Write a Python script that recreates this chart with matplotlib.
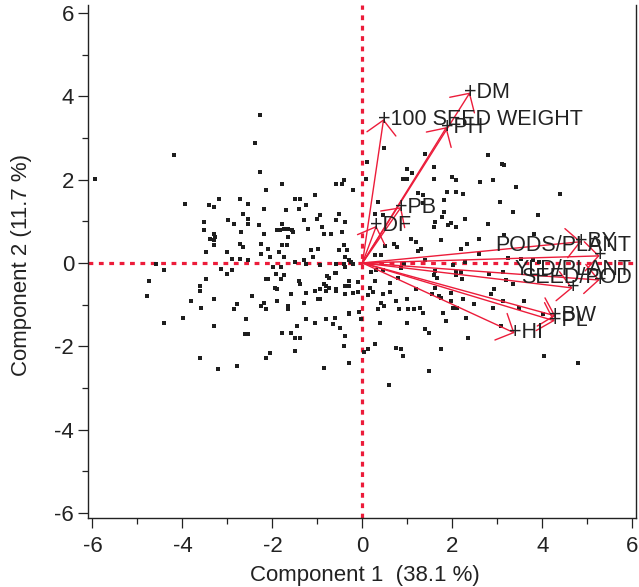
import matplotlib
matplotlib.use("Agg")
import matplotlib.pyplot as plt
from matplotlib.ticker import MultipleLocator

plt.rcParams['font.family'] = ['Liberation Sans', 'DejaVu Sans']
plt.rcParams['axes.unicode_minus'] = False

# ---------------- data ----------------
pc1 = [
    -5.94, -4.18, -2.27, -2.39, -2.27, -2.14, -1.79, -2.18, -3.94, -3.42,
    -3.30, -3.18, -2.73, -2.54, -2.66, -2.98, -2.86, -2.54, -2.54, -2.30,
    -3.53, -3.53, -3.38, -3.30, -3.27, -3.30, -3.30, -2.70, -2.18, -2.73,
    -2.66, -2.26, -2.10, -3.47, -3.02, -2.26, -2.90, -2.73, -2.54, -2.06,
    -1.86, -1.74, -1.79, -1.67, -1.66, -1.57, -1.54, -1.84, -1.90, -1.78,
    -1.74, -1.66, -1.70, -1.50, -1.38, -1.42, -1.25, -1.30, -1.22, -1.06,
    -1.01, -0.94, -0.90, -0.86, -0.70, -0.58, -0.46, -0.41, -0.21, -0.53,
    -0.59, -0.38, -0.45, -0.41, -0.53, -0.38, -0.34, -1.50, -1.30, -1.25,
    -1.14, -1.10, -0.98, -0.94, -0.58, -0.42, -0.38, -0.29, -0.25, -0.21,
    -4.58, -4.42, -4.74, -4.78, -3.62, -3.62, -3.47, -3.14, -3.02, -2.90,
    -3.82, -3.59, -3.30, -2.86, -2.78, -2.46, -2.26, -2.18, -2.14, -2.14,
    -2.10, -1.98, -1.93, -1.81, -1.74, -1.82, -1.94, -1.90, -1.58, -1.90,
    -1.66, -1.66, -1.42, -1.38, -1.25, -1.30, -1.06, -0.98, -0.94, -0.94,
    -0.86, -0.82, -0.74, -0.82, -0.79, -0.74, -0.61, -0.58, -0.58, -0.58,
    -0.38, -0.38, -0.30, -0.30, -0.21, -0.30, -0.30, -4.42, -3.99, -3.30,
    -2.59, -2.62, -2.54, -1.78, -1.58, -1.50, -1.38, -1.46, -1.25, -1.06,
    -0.82, -0.61, -0.66, -0.50, -0.38, -0.41, -3.62, -3.22, -2.78, -2.14,
    -2.06, -1.50, -0.86, -0.30,
    0.47, 0.10, 0.07, 1.38, 1.58, 0.99, 0.91, 0.99, 1.10, 1.58,
    1.99, 2.07, 2.79, 3.10, 3.14, 2.62, 2.90, 1.23, 1.34, 1.87,
    2.07, 2.23, 1.82, 0.34, 3.06, 1.82, 1.77, 1.62, 2.27, 1.97,
    1.91, 2.07, 1.58, 2.79, 0.27, 0.45, 1.07, 1.19, 1.75, 2.59,
    0.70, 0.77, 0.51, 1.23, 1.30, 2.19, 2.32, 2.59, 0.27, 0.41,
    1.34,
    3.42, 4.38, 3.34, 3.91, 3.82, 3.14,
    0.93, 1.38, 2.01, 2.27, 3.23, 3.53, 3.79, 3.93, 0.18, 0.30,
    0.45, 0.86, 0.79, 0.62, 0.27, -0.09, 0.16, 0.13, -0.09, 0.23,
    0.45, 0.62, 0.75, 0.41, 0.47, 0.34, 0.99, 0.82, 1.02, 1.14,
    1.27, 1.34, 1.19, 1.54, 1.61, 1.58, 1.65, 1.61, 2.08, 2.08,
    2.19, 2.21, 1.96, 1.75, 1.70, 1.97, 2.01, 2.10, 1.79, 1.86,
    2.23, 2.49, 2.82, 3.13, 3.19, 3.34, 2.93, 2.86, 3.12, 2.91,
    2.30, 3.08, 3.49, 3.60, 4.01, -0.03, -0.07, 0.38, 0.99, 1.38,
    1.49, 2.34, 0.27, 0.12, 0.04, 0.75, 0.86, 0.90, 1.75, 4.03,
    1.47, 0.59, 4.79,
]
pc2 = [
    2.02, 2.58, 3.55, 2.87, 2.18, 1.74, 1.90, 1.30, 1.42, 1.38,
    1.34, 1.54, 1.54, 1.42, 1.18, 1.02, 0.94, 1.06, 0.94, 0.90,
    0.98, 0.78, 0.58, 0.70, 0.62, 0.54, 0.42, 0.74, 0.70, 0.46,
    0.38, 0.46, 0.34, 0.26, 0.26, 0.22, 0.10, 0.10, 0.06, 0.14,
    0.26, 0.14, 0.42, 0.42, 0.62, 0.78, 0.74, 0.78, 0.78, 0.94,
    0.82, 0.82, 1.26, 1.54, 1.54, 1.30, 1.38, 1.02, 0.82, 1.62,
    1.06, 1.14, 0.86, 0.70, 0.70, 1.90, 1.90, 1.98, 1.74, 1.18,
    1.02, 0.98, 0.74, 0.42, 0.30, 0.14, 0.30, 0.02, 0.06, -0.02,
    0.30, 0.14, 0.34, -0.06, -0.02, -0.02, -0.10, 0.06, 0.02, -0.02,
    -0.02, -0.18, -0.43, -0.79, -0.55, -0.67, -0.39, -0.15, -0.26, -0.18,
    -0.91, -1.07, -0.87, -1.11, -0.99, -0.79, -1.03, -0.95, -1.11, -0.39,
    -0.39, -0.10, -0.26, -0.10, -0.30, -0.39, -0.59, -0.63, -0.75, -0.91,
    -1.03, -1.11, -0.43, -0.51, -0.71, -0.95, -0.67, -0.87, -0.87, -0.63,
    -0.51, -0.55, -0.59, -0.67, -0.31, -0.35, -0.23, -0.23, -0.63, -0.67,
    -0.55, -0.75, -0.43, -0.55, -0.71, -1.19, -1.23, -1.43, -1.31, -1.51,
    -1.35, -1.71, -1.71, -1.67, -1.67, -1.79, -1.79, -1.51, -1.35, -1.43,
    -1.35, -1.31, -1.47, -1.55, -1.75, -1.99, -2.27, -2.55, -2.47, -2.27,
    -2.15, -2.11, -2.51, -2.39,
    2.75, 2.42, 2.02, 2.62, 2.31, 2.26, 2.02, 2.02, 2.15, 2.02,
    2.07, 1.98, 2.58, 2.38, 2.34, 1.94, 1.98, 1.67, 1.62, 1.70,
    1.70, 1.66, 1.50, 1.46, 1.46, 1.22, 1.10, 0.98, 1.06, 0.95,
    0.90, 0.86, 0.86, 0.94, 1.18, 1.14, 0.58, 0.51, 0.54, 0.58,
    0.46, 0.38, 0.41, 0.29, 0.34, 0.34, 0.45, 0.21, 0.18, 0.18,
    1.43,
    1.82, 1.66, 1.22, 1.14, 0.70, 0.66,
    -0.03, 0.07, -0.05, 0.03, 0.11, 0.10, 0.07, 0.03, -0.21, -0.17,
    -0.17, -0.11, -0.35, -0.49, -0.43, -0.46, -0.59, -0.78, -0.70, -0.70,
    -0.75, -0.70, -0.91, -0.95, -1.03, -1.11, -0.87, -1.11, -1.11, -1.11,
    -1.07, -1.19, -0.63, -0.75, -0.59, -0.30, -0.35, -0.19, -0.22, -0.30,
    -0.22, -0.38, -0.71, -0.83, -0.79, -0.91, -1.07, -1.07, -1.19, -1.39,
    -0.87, -0.99, -0.27, -0.22, -0.41, -0.51, -0.62, -0.75, -0.91, -1.07,
    -1.31, -1.51, -1.07, -0.91, -1.23, -1.34, -1.18, -1.43, -1.43, -1.58,
    -1.67, -1.79, -1.95, -2.06, -2.13, -2.03, -2.07, -2.23, -2.07, -2.23,
    -2.60, -2.92, -2.39,
]

var_names = ["PODS/PLANT", "BY", "YLD/PLANT", "SEED/POD", "BW", "PL", "HI",
             "DM", "100 SEED WEIGHT", "PH", "PB", "DF"]
load1 = [5.27, 4.86, 5.27, 4.67, 4.29, 4.27, 3.38, 2.39, 0.47, 1.87, 0.86, 0.31]
load2 = [0.17, 0.51, -0.41, -0.60, -1.27, -1.39, -1.68, 4.09, 3.45, 3.26, 1.34, 0.89]

xlabel_text = "Component 1  (38.1 %)"
ylabel_text = "Component 2 (11.7 %)"

# labels that JMP pulled back inside the frame (right-aligned)
shifted_labels = {"PODS/PLANT", "YLD/PLANT", "SEED/POD"}

# ---------------- figure ----------------
W, H = 639, 587
fig = plt.figure(figsize=(W / 100, H / 100), dpi=100)
ax = fig.add_axes([88 / W, (H - 518) / H, 548 / W, 513 / H])
ax.set_xlim(-6.10, 6.08)
ax.set_ylim(-6.12, 6.19)

red = '#ec1c3a'
txt = '#222222'

# reference lines
ax.axvline(0, color=red, lw=2.3, dashes=(1.5, 1.75), zorder=2)
ax.axhline(0, color=red, lw=2.3, dashes=(1.5, 1.75), zorder=2)

# scores
ax.plot(pc1, pc2, linestyle='none', marker='s', markersize=2.6,
        color='#1e1e1e', markeredgewidth=0, zorder=3)

# loadings arrows
for name, lx, ly in zip(var_names, load1, load2):
    ax.annotate('', xy=(lx, ly), xytext=(0, 0),
                arrowprops=dict(arrowstyle='->,head_length=10,head_width=10.5',
                                mutation_scale=1, color=red, lw=1.0,
                                shrinkA=0, shrinkB=0),
                zorder=4)
    if name in shifted_labels:
        ax.annotate('+', xy=(lx, ly), xytext=(-4.3, 0), textcoords='offset points',
                    ha='left', va='center', fontsize=15.5, color=txt, zorder=5)
        ax.annotate(name, xy=(5.98, ly), xytext=(0, 7.5), textcoords='offset points',
                    ha='right', va='center', fontsize=15.5, color=txt, zorder=5)
    else:
        ax.annotate('+' + name, xy=(lx, ly), xytext=(-4.3, 0), textcoords='offset points',
                    ha='left', va='center', fontsize=15.5, color=txt, zorder=5)

# axes styling
for s in ('left', 'bottom', 'right'):
    ax.spines[s].set_linewidth(1.0)
    ax.spines[s].set_color('#222222')
ax.spines['top'].set_visible(False)

ax.xaxis.set_major_locator(MultipleLocator(2))
ax.xaxis.set_minor_locator(MultipleLocator(1))
ax.yaxis.set_major_locator(MultipleLocator(2))
ax.yaxis.set_minor_locator(MultipleLocator(1))
ax.tick_params(which='major', direction='out', length=7, width=0.9, color='#222222',
               labelsize=16, labelcolor=txt)
ax.tick_params(which='minor', direction='out', length=4, width=0.9, color='#222222')
ax.tick_params(axis='x', which='major', pad=6)
ax.tick_params(axis='y', which='major', pad=3)
ax.tick_params(right=False, top=False)

fig.text(365 / W, 1 - 575 / H, xlabel_text, ha='center', va='center',
         fontsize=16, color=txt)
fig.text(22 / W, 1 - 265 / H, ylabel_text, ha='center', va='center',
         rotation=90, fontsize=16, color=txt)

fig.savefig('out.png', dpi=100)
